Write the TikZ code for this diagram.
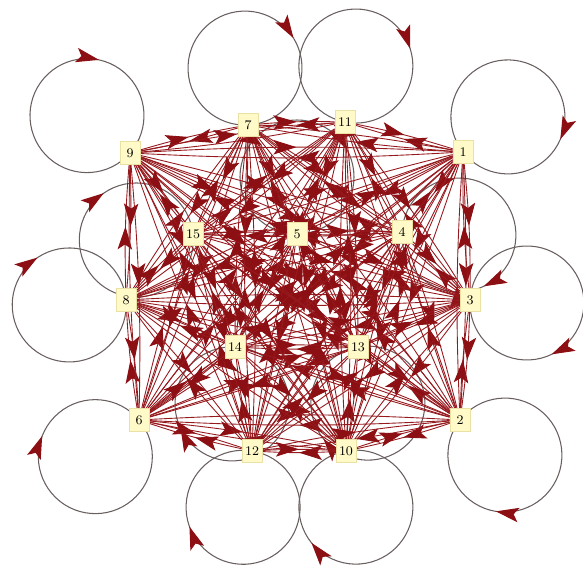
\documentclass[tikz,border=0pt]{standalone}
\usepackage{tikz}
\usetikzlibrary{arrows.meta, decorations.markings}

\definecolor{linkred}{RGB}{150,25,30}
\definecolor{headred}{RGB}{140,15,20}
\definecolor{loopgray}{RGB}{105,95,95}
\definecolor{nodefill}{RGB}{255,250,200}
\definecolor{nodeline}{RGB}{235,225,165}

\pgfdeclarelayer{edges}
\pgfsetlayers{edges,main}

\begin{document}
\begin{tikzpicture}[
  x=0.02cm, y=0.02cm,
  vbox/.style = {
    rectangle, draw=nodeline, fill=nodefill, minimum width=0.4cm,
    minimum height=0.46cm, inner sep=1pt, font=\fontsize{7.5}{9}\selectfont
  },
  link/.style = {
    draw=linkred, line width=0.5pt, postaction={decorate},
    decoration={markings, mark=at position 0.5 with
      {\arrow{Stealth[length=4.6mm, width=2.9mm, inset=1mm, color=headred]}}}
  },
  selfloop/.style = {
    draw=loopgray, line width=0.6pt, postaction={decorate},
    decoration={markings, mark=at position 0.67 with
      {\arrow{Stealth[length=4.6mm, width=2.9mm, inset=1mm, color=headred]}}}
  }
]

  \useasboundingbox (0,0) rectangle (583,-571);

  % vertices: name / x / y
  \foreach \v/\px/\py in {1/463/152, 2/460/420, 3/470/300, 4/402/232,
      5/297/234, 6/139/420, 7/248/125, 8/126/300, 9/130/153, 10/346/451,
      11/345/122, 12/252/451, 13/358/347, 14/235/347, 15/193/234}
    \node[vbox] (v\v) at (\px,-\py) {\v};

  \begin{pgfonlayer}{edges}
  % page frame
  \fill[white] (0,0) rectangle (583,-571);

  % self loops, all clockwise (vertex / direction of the loop)
  \foreach \v/\ang in {1/38, 2/322, 3/-3, 4/-3, 5/90, 6/220, 7/93, 8/185,
      9/139, 10/280, 11/79, 12/261, 13/280, 14/267, 15/186}
    \draw[selfloop] (v\v.center) arc[start angle=\ang+180, delta angle=-360, radius=57];

  % every ordered pair of vertices
  \foreach \a in {1,...,15}
    \foreach \b in {1,...,15}
      {\ifnum\a=\b\else \draw[link] (v\a) to[bend left=3] (v\b);\fi}
  \end{pgfonlayer}

\end{tikzpicture}
\end{document}
